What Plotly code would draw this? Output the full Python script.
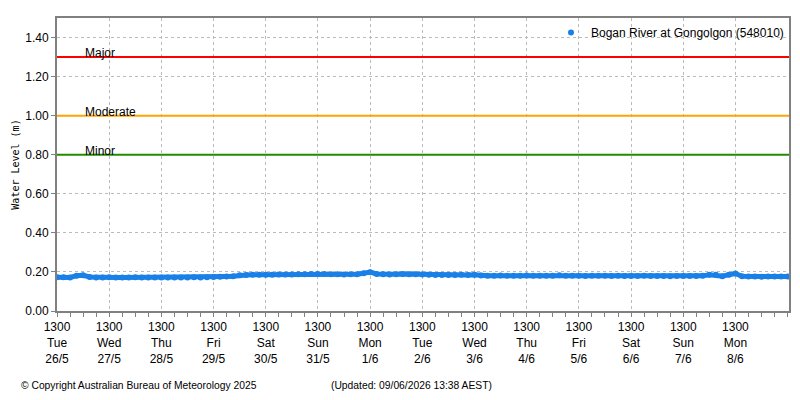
import plotly.graph_objects as go
import pandas as pd

# ---- data ----
series_name = "Bogan River at Gongolgon (548010)"
start_time = "2026-05-26 13:00"
step_hours = 3
water_level = [
    0.173, 0.173, 0.172, 0.181, 0.183, 0.174,
    0.172, 0.172, 0.173, 0.172, 0.172, 0.172, 0.173, 0.172, 0.172, 0.171,
    0.172, 0.172, 0.171, 0.172, 0.172, 0.173, 0.172, 0.173, 0.174,
    0.175, 0.177, 0.178, 0.183, 0.184, 0.185, 0.185,
    0.186, 0.186, 0.187, 0.187, 0.187, 0.188, 0.188,
    0.189, 0.190, 0.189,
    0.188, 0.188, 0.187, 0.188, 0.188,
    0.193, 0.199, 0.190,
    0.188, 0.187, 0.188, 0.189, 0.188, 0.188, 0.187,
    0.185, 0.184, 0.184, 0.184, 0.184, 0.185, 0.184,
    0.186, 0.182, 0.181, 0.181, 0.182, 0.181, 0.181, 0.181, 0.182, 0.181, 0.181, 0.181,
    0.181, 0.183,
    0.180, 0.180, 0.180, 0.179, 0.180, 0.180, 0.180, 0.179, 0.180, 0.179, 0.179,
    0.179, 0.180, 0.179, 0.179, 0.179, 0.178, 0.179, 0.179, 0.179, 0.179, 0.180,
    0.186, 0.185, 0.178, 0.186, 0.192, 0.178,
    0.176, 0.176, 0.175, 0.176, 0.176, 0.177, 0.177,
]
threshold_names = ["Major", "Moderate", "Minor"]
threshold_levels = [1.30, 1.00, 0.80]
threshold_colors = ["#ff0000", "#ffa500", "#228b00"]

tick_dates = ["2026-05-%02d 13:00" % d for d in range(26, 32)] + \
             ["2026-06-%02d 13:00" % d for d in range(1, 9)]
tick_days = ["Tue", "Wed", "Thu", "Fri", "Sat", "Sun", "Mon",
             "Tue", "Wed", "Thu", "Fri", "Sat", "Sun", "Mon"]
tick_dm = ["26/5", "27/5", "28/5", "29/5", "30/5", "31/5", "1/6",
           "2/6", "3/6", "4/6", "5/6", "6/6", "7/6", "8/6"]
x_end = "2026-06-09 13:38"
y_ticks = [0.0, 0.2, 0.4, 0.6, 0.8, 1.0, 1.2, 1.4]

times = [pd.Timestamp(start_time) + pd.Timedelta(hours=step_hours * i)
         for i in range(len(water_level))]

FONT = "Liberation Sans, Arial, sans-serif"
BLUE = "#1a80e8"

fig = go.Figure()
fig.add_trace(go.Scatter(x=times, y=water_level, mode="lines",
                         line=dict(color=BLUE, width=5), showlegend=False,
                         hoverinfo="skip"))
fig.add_trace(go.Scatter(x=times, y=water_level, mode="markers",
                         marker=dict(color=BLUE, size=6), name=series_name))

for name, lvl, col in zip(threshold_names, threshold_levels, threshold_colors):
    fig.add_shape(type="line", xref="paper", x0=0, x1=1, yref="y", y0=lvl, y1=lvl,
                  line=dict(color=col, width=2))
    fig.add_annotation(xref="paper", x=0.035, yref="y", y=lvl, text=name,
                       showarrow=False, xanchor="left", yanchor="bottom", yshift=-5,
                       font=dict(family=FONT, size=12, color="black"))

fig.update_layout(
    width=800, height=400,
    margin=dict(l=57, r=9, t=18, b=89),
    paper_bgcolor="white", plot_bgcolor="white",
    font=dict(family=FONT, size=12, color="black"),
    legend=dict(x=1, y=1, xanchor="right", yanchor="top",
                bgcolor="rgba(255,255,255,0)", font=dict(size=12),
                itemwidth=30),
    showlegend=True,
)
fig.update_xaxes(
    type="date", range=[start_time, x_end],
    tickvals=tick_dates,
    ticktext=["1300<br>%s<br>%s" % (d, dm) for d, dm in zip(tick_days, tick_dm)],
    ticks="outside", ticklen=4, tickcolor="#808080",
    showline=True, linecolor="#808080", linewidth=2, mirror=True,
    showgrid=True, gridcolor="#bbbbbb", griddash="3px,3px", gridwidth=1,
    minor=dict(dtick=6 * 3600 * 1000, tick0=start_time, ticks="outside",
               ticklen=4, tickcolor="#808080", showgrid=False),
    tickfont=dict(size=12), zeroline=False,
)
fig.update_yaxes(
    range=[0, 1.5], tickvals=y_ticks, ticktext=["%.2f" % v for v in y_ticks],
    ticks="outside", ticklen=4, tickcolor="#808080",
    showline=True, linecolor="#808080", linewidth=2, mirror=True,
    showgrid=True, gridcolor="#bbbbbb", griddash="3px,3px", gridwidth=1,
    zeroline=False, tickfont=dict(size=12),
    title=dict(text="Water Level (m)", standoff=4,
               font=dict(family="DejaVu Sans Mono, monospace", size=10)),
)
fig.add_annotation(xref="paper", yref="paper", x=-0.052, y=-0.255,
                   xanchor="left", yanchor="middle", showarrow=False,
                   text="© Copyright Australian Bureau of Meteorology 2025",
                   font=dict(family=FONT, size=10.3))
fig.add_annotation(xref="paper", yref="paper", x=0.372, y=-0.255,
                   xanchor="left", yanchor="middle", showarrow=False,
                   text="(Updated: 09/06/2026 13:38 AEST)",
                   font=dict(family=FONT, size=10.3))

fig.write_html("out.html")
